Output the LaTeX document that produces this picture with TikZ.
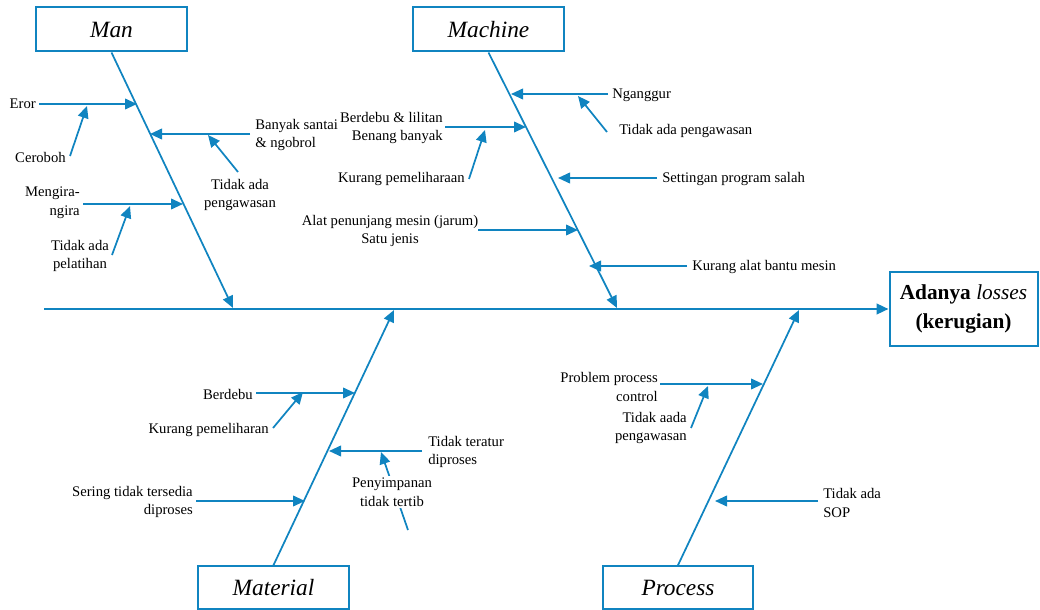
\documentclass[tikz,border=0pt]{standalone}
\usepackage{fontspec}
\setmainfont{Liberation Serif}
\usetikzlibrary{arrows.meta}
\definecolor{bl}{RGB}{16,132,192}
\begin{document}
\begin{tikzpicture}[x=0.75pt,y=-0.75pt,
  lbl/.style={inner sep=0pt,font=\fontsize{11}{14}\selectfont},
  ttlbox/.style={draw=bl,line width=1.5pt,minimum width=113pt,minimum height=33pt,inner sep=0pt,font=\fontsize{17.5}{20}\selectfont\itshape},
  arr/.style={draw=bl,line width=1.3pt,-{Triangle[length=9pt,width=8pt]}},
  spine/.style={draw=bl,line width=1.7pt,-{Triangle[length=9pt,width=8pt]}}]
\useasboundingbox (0,0) rectangle (1040,610);
% boxes
\node[ttlbox] (man) at (111.5,29.5) {Man};
\node[ttlbox] (machine) at (488.5,29.5) {Machine};
\node[ttlbox,minimum height=32pt] (material) at (273.5,587.5) {Material};
\node[ttlbox,minimum height=32pt] (process) at (678,587.5) {Process};
\node[draw=bl,line width=1.5pt,minimum width=111pt,minimum height=55pt,inner sep=0pt,align=center,font=\fontsize{16}{22}\selectfont\bfseries] (effect) at (963.5,309) {Adanya {\mdseries\itshape losses}\\(kerugian)};
% spine
\coordinate (s0) at (44,309);
\draw[spine] (s0) -- (effect.west);
% bones
\coordinate (manE) at (233,308);
\coordinate (macE) at (617,308);
\coordinate (matE) at (394,310);
\coordinate (proE) at (799,310);
\draw[arr] (man.south) -- (manE);
\draw[arr] (machine.south) -- (macE);
\draw[arr] (material.north) -- (matE);
\draw[arr] (process.north) -- (proE);

% ---------- Man ----------
\node[lbl,anchor=east] (eror) at (36,104) {Eror};
\coordinate (erorS) at (39,104); \coordinate (erorT) at (137,104);
\draw[arr] (erorS) -- (erorT);
\node[lbl,anchor=east] (ceroboh) at (66,157) {Ceroboh};
\coordinate (cerS) at (70,156); \coordinate (cerT) at (87,106);
\draw[arr] (cerS) -- (cerT);
\node[lbl,anchor=west,align=left] (banyak) at (255,135) {Banyak santai\\\& ngobrol};
\coordinate (banS) at (250,134); \coordinate (banT) at (150,134);
\draw[arr] (banS) -- (banT);
\node[lbl,align=center] (tapM) at (240,195) {Tidak ada\\pengawasan};
\coordinate (tapMS) at (238,172); \coordinate (tapMT) at (208,135);
\draw[arr] (tapMS) -- (tapMT);
\node[lbl,anchor=east,align=right] (mengira) at (80,203) {Mengira-\\ngira};
\coordinate (menS) at (83,204); \coordinate (menT) at (183,204);
\draw[arr] (menS) -- (menT);
\node[lbl,align=center] (pelatihan) at (80,256) {Tidak ada\\pelatihan};
\coordinate (pelS) at (112,255); \coordinate (pelT) at (130,206);
\draw[arr] (pelS) -- (pelT);

% ---------- Machine ----------
\node[lbl,anchor=west] (nganggur) at (612,95) {Nganggur};
\coordinate (ngaS) at (608,94); \coordinate (ngaT) at (511,94);
\draw[arr] (ngaS) -- (ngaT);
\node[lbl,anchor=west] (tapMa) at (619,131) {Tidak ada pengawasan};
\coordinate (tapMaS) at (607,132); \coordinate (tapMaT) at (578,96);
\draw[arr] (tapMaS) -- (tapMaT);
\node[lbl,anchor=east,align=right] (lilitan) at (443,128) {Berdebu \& lilitan\\Benang banyak};
\coordinate (lilS) at (445,127); \coordinate (lilT) at (526,127);
\draw[arr] (lilS) -- (lilT);
\node[lbl,anchor=east] (kpMa) at (465,179) {Kurang pemeliharaan};
\coordinate (kpMaS) at (469,179); \coordinate (kpMaT) at (485,130);
\draw[arr] (kpMaS) -- (kpMaT);
\node[lbl,anchor=west] (setting) at (662,179) {Settingan program salah};
\coordinate (setS) at (657,178); \coordinate (setT) at (558,178);
\draw[arr] (setS) -- (setT);
\node[lbl,align=center] (alat) at (390,231) {Alat penunjang mesin (jarum)\\Satu jenis};
\coordinate (alaS) at (478,230); \coordinate (alaT) at (578,230);
\draw[arr] (alaS) -- (alaT);
\node[lbl,anchor=west] (bantu) at (692,267) {Kurang alat bantu mesin};
\coordinate (banMS) at (687,266); \coordinate (banMT) at (589,266);
\draw[arr] (banMS) -- (banMT);

% ---------- Material ----------
\node[lbl,anchor=east] (berdebu) at (253,394) {Berdebu};
\coordinate (berS) at (256,393); \coordinate (berT) at (355,393);
\draw[arr] (berS) -- (berT);
\node[lbl,anchor=east] (kpMt) at (269,430) {Kurang pemeliharan};
\coordinate (kpMtS) at (273,428); \coordinate (kpMtT) at (303,392);
\draw[arr] (kpMtS) -- (kpMtT);
\node[lbl,anchor=west,align=left] (teratur) at (428,452) {Tidak teratur\\diproses};
\coordinate (terS) at (422,451); \coordinate (terT) at (329,451);
\draw[arr] (terS) -- (terT);
\coordinate (penS) at (408,530); \coordinate (penT) at (381,452);
\draw[arr] (penS) -- (penT);
\node[lbl,align=center,fill=white,inner sep=1pt] (penyimpanan) at (392,492) {Penyimpanan\\tidak tertib};
\node[lbl,anchor=east,align=right] (sering) at (193,502) {Sering tidak tersedia\\diproses};
\coordinate (serS) at (196,501); \coordinate (serT) at (305,501);
\draw[arr] (serS) -- (serT);

% ---------- Process ----------
\node[lbl,anchor=east,align=right] (problem) at (658,387) {Problem process\\control};
\coordinate (proS) at (660,384); \coordinate (proT) at (763,384);
\draw[arr] (proS) -- (proT);
\node[lbl,anchor=east,align=right] (tapP) at (687,428) {Tidak aada\\pengawasan};
\coordinate (tapPS) at (691,428); \coordinate (tapPT) at (708,386);
\draw[arr] (tapPS) -- (tapPT);
\node[lbl,anchor=west,align=left] (sop) at (823,503) {Tidak ada\\SOP};
\coordinate (sopS) at (818,501); \coordinate (sopT) at (715,501);
\draw[arr] (sopS) -- (sopT);
\end{tikzpicture}
\end{document}
